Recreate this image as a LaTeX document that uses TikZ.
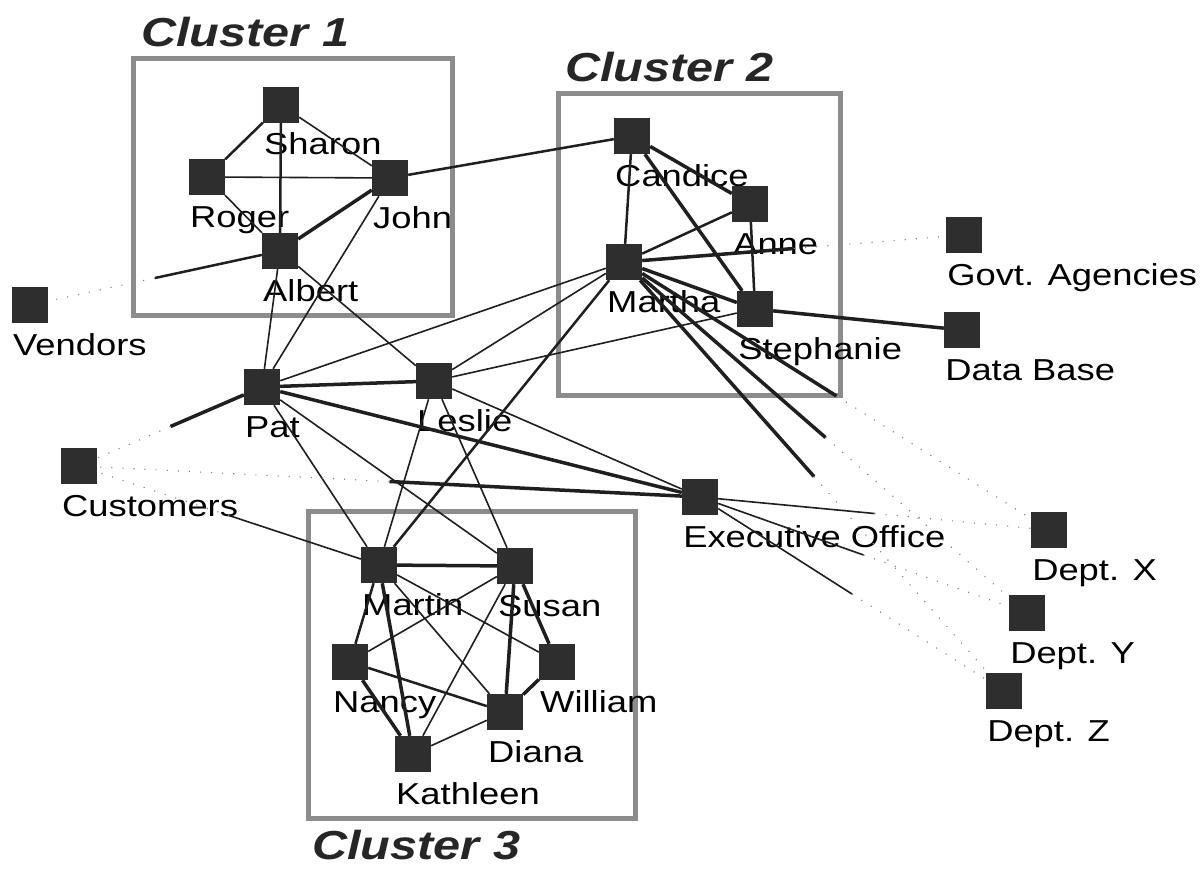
\documentclass[tikz,border=0pt]{standalone}
\usepackage{fontspec}
\setmainfont{Liberation Sans}
\usetikzlibrary{calc}

\tikzset{
  sq/.style={rectangle, fill=black!82, minimum size=36pt, inner sep=0pt},
  lbl/.style={anchor=base west, inner sep=0pt, xscale=1.2,
              font=\fontsize{30.3}{36}\selectfont},
  ttl/.style={anchor=base west, inner sep=0pt, xscale=1.2, text=black!85,
              font=\fontsize{40.5}{46}\selectfont\bfseries\itshape},
  cluster/.style={draw=black!45, line width=5pt},
  e1/.style={draw=black!88, line width=1.6pt},
  e2/.style={draw=black!88, line width=2.5pt},
  e3/.style={draw=black!88, line width=3.5pt},
  dots/.style={draw=black!50, line width=1.1pt, dash pattern=on 1.1pt off 10pt},
}

% a member: square plus its name set below it
\newcommand\ent[4]{%
  \node[sq] (#1) at (#2,#3) {};
  \node[lbl] (#1-l) at ({#2-17},{#3+50}) {#4};}
% link to an outside party: solid half from the member, dotted half to the party
\newcommand\half[3]{%
  \draw[#1] (#2) -- ($(#2)!0.5!(#3)$) coordinate (m-#2-#3);
  \draw[dots] (m-#2-#3) -- (#3);}

\begin{document}
\begin{tikzpicture}[x=1pt, y=-1pt]
\useasboundingbox (0,0) rectangle (1201,869);

% cluster frames and titles
\draw[cluster] (133,59) rectangle (452,315);
\draw[cluster] (558,94) rectangle (840,395);
\draw[cluster] (308,511) rectangle (635,818);
\node[ttl] (t1) at (141,47) {Cluster 1};
\node[ttl] (t2) at (565,82) {Cluster 2};
\node[ttl] (t3) at (312,859) {Cluster 3};

% cluster 1
\ent{sharon}{281}{105}{Sharon}
\ent{roger}{207}{177}{Roger}
\ent{john}{390}{178}{John}
\ent{albert}{280}{251}{Albert}
% cluster 2
\ent{candice}{632}{136}{Candice}
\ent{anne}{750}{204}{Anne}
\ent{martha}{624}{262}{Martha}
\ent{stephanie}{755}{309}{Stephanie}
% cluster 3
\ent{martin}{379}{565}{Martin}
\ent{susan}{515}{566}{Susan}
\ent{nancy}{350}{662}{Nancy}
\ent{william}{557}{662}{William}
\ent{diana}{505}{712}{Diana}
\ent{kathleen}{413}{754}{Kathleen}
% unclustered members
\ent{pat}{262}{387}{Pat}
\ent{leslie}{434}{381}{Leslie}
\ent{exec}{700}{497}{Executive Office}
% outside parties
\ent{vendors}{30}{305}{Vendors}
\ent{customers}{79}{466}{Customers}
\ent{govt}{964}{235}{Govt. Agencies}
\ent{database}{962}{330}{Data Base}
\ent{deptx}{1049}{530}{Dept. X}
\ent{depty}{1027}{613}{Dept. Y}
\ent{deptz}{1004}{691}{Dept. Z}

% links inside cluster 1
\draw[e2] (sharon) -- (roger);
\draw[e1] (sharon) -- (john);
\draw[e2] (sharon) -- (albert);
\draw[e1] (roger) -- (john);
\draw[e1] (roger) -- (albert);
\draw[e3] (john) -- (albert);
% cluster 1 outward
\draw[e2] (john) -- (candice);
\draw[e1] (albert) -- (pat);
\draw[e1] (john) -- (pat);
\draw[e1] (albert) -- (leslie);
\half{e2}{albert}{vendors}

% Pat and Leslie
\draw[e3] (pat) -- (leslie);
\draw[e3] (pat) -- (exec);
\half{e3}{pat}{customers}
\draw[e1] (pat) -- (martha);
\draw[e1] (pat) -- (martin);
\draw[e1] (pat) -- (susan);
\draw[e1] (leslie) -- (martha);
\draw[e1] (leslie) -- (stephanie);
\draw[e1] (leslie) -- (exec);
\draw[e1] (leslie) -- (martin);
\draw[e1] (leslie) -- (susan);

% cluster 2
\draw[e2] (martha) -- (candice);
\draw[e2] (martha) -- (anne);
\draw[e3] (martha) -- (stephanie);
\draw[e3] (candice) -- (anne);
\draw[e3] (candice) -- (stephanie);
\draw[e2] (anne) -- (stephanie);
\draw[e2] (martha) -- (martin);
\draw[e3] (stephanie) -- (database);
\half{e3}{martha}{govt}
\half{e3}{martha}{deptx}
\half{e3}{martha}{depty}
\half{e3}{martha}{deptz}

% executive office
\half{e3}{exec}{customers}
\half{e1}{exec}{deptx}
\half{e1}{exec}{depty}
\half{e1}{exec}{deptz}

% cluster 3
\half{e1}{martin}{customers}
\draw[e3] (martin) -- (susan);
\draw[e2] (martin) -- (nancy);
\draw[e3] (martin) -- (kathleen);
\draw[e1] (martin) -- (diana);
\draw[e1] (martin) -- (william);
\draw[e1] (susan) -- (nancy);
\draw[e1] (susan) -- (kathleen);
\draw[e3] (susan) -- (diana);
\draw[e3] (susan) -- (william);
\draw[e2] (nancy) -- (diana);
\draw[e3] (nancy) -- (kathleen);
\draw[e1] (diana) -- (kathleen);
\draw[e3] (diana) -- (william);
\end{tikzpicture}
\end{document}
